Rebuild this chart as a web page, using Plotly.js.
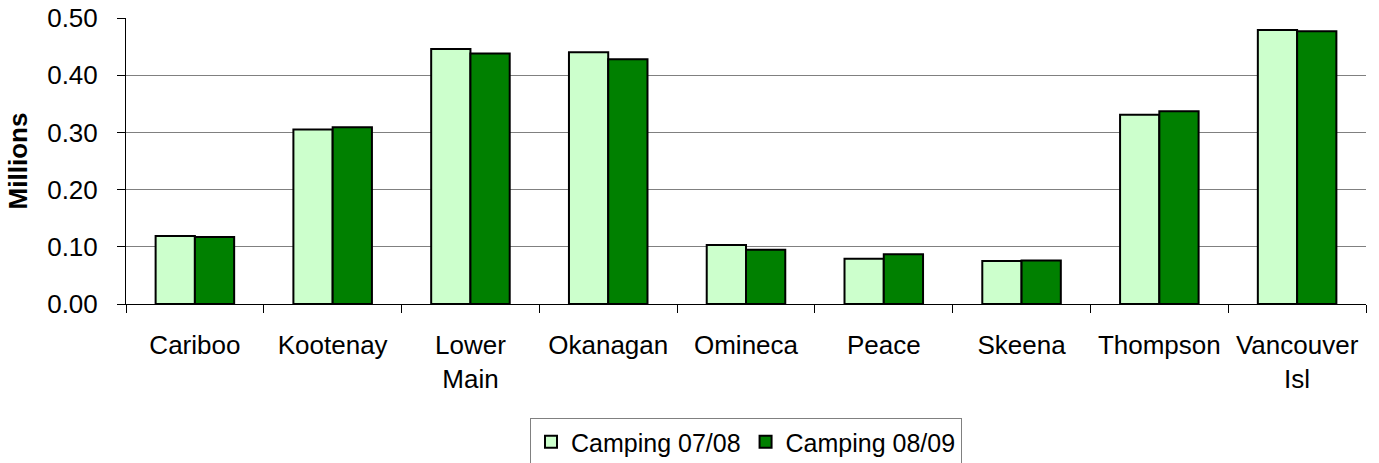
<!DOCTYPE html>
<html>
<head>
<meta charset="utf-8">
<script src="https://cdn.plot.ly/plotly-3.0.1.min.js"></script>
<style>html,body{margin:0;padding:0;background:#fff;}#chart{width:1379px;height:463px;}</style>
</head>
<body>
<div id="chart"></div>
<script>
const categories = ["Cariboo", "Kootenay", "Lower<br>Main", "Okanagan", "Omineca", "Peace", "Skeena", "Thompson", "Vancouver<br>Isl"];
const camping0708 = [0.119, 0.305, 0.446, 0.440, 0.103, 0.079, 0.075, 0.331, 0.479];
const camping0809 = [0.117, 0.309, 0.438, 0.428, 0.095, 0.087, 0.076, 0.337, 0.477];
const seriesNames = ["Camping 07/08", "Camping 08/09"];
const yTicks = [0, 0.1, 0.2, 0.3, 0.4, 0.5];

const font = "Liberation Sans, Arial, sans-serif";
const traces = [
  {type: "bar", x: categories, y: camping0708, name: seriesNames[0],
   marker: {color: "#CCFFCC", line: {color: "#000000", width: 2}}},
  {type: "bar", x: categories, y: camping0809, name: seriesNames[1],
   marker: {color: "#008000", line: {color: "#000000", width: 2}}}
];
const layout = {
  width: 1379, height: 463,
  margin: {l: 126, r: 13, t: 17.5, b: 158.5, autoexpand: false},
  paper_bgcolor: "#ffffff", plot_bgcolor: "#ffffff",
  barmode: "group", bargap: 0.43, bargroupgap: 0,
  font: {family: font, size: 26, color: "#000"},
  hovermode: false,
  xaxis: {
    type: "category", showline: true, linecolor: "#000", linewidth: 1,
    ticks: "outside", tickson: "boundaries", ticklen: 8, tickcolor: "#000",
    showgrid: false, tickfont: {family: font, size: 26, color: "#000"},
    ticklabelstandoff: 18, zeroline: false, automargin: false
  },
  yaxis: {
    range: [0, 0.5], tickvals: yTicks, ticktext: yTicks.map(v => v.toFixed(2)),
    showline: true, linecolor: "#000", linewidth: 1,
    ticks: "outside", ticklen: 8, tickcolor: "#000",
    showgrid: true, gridcolor: "#808080", gridwidth: 1,
    zeroline: false, tickfont: {family: font, size: 26, color: "#000"},
    ticklabelstandoff: 14, automargin: false,
    title: {text: "<b>Millions</b>", font: {family: font, size: 26, color: "#000"}, standoff: 12}
  },
  legend: {
    orientation: "h", x: 0.5, xanchor: "center", y: -0.399, yanchor: "top",
    bordercolor: "#808080", borderwidth: 1, bgcolor: "#fff",
    font: {family: font, size: 25, color: "#000"},
    itemwidth: 30, tracegroupgap: 0
  },
  showlegend: true
};
Plotly.newPlot("chart", traces, layout, {displayModeBar: false, staticPlot: true});
</script>
</body>
</html>
